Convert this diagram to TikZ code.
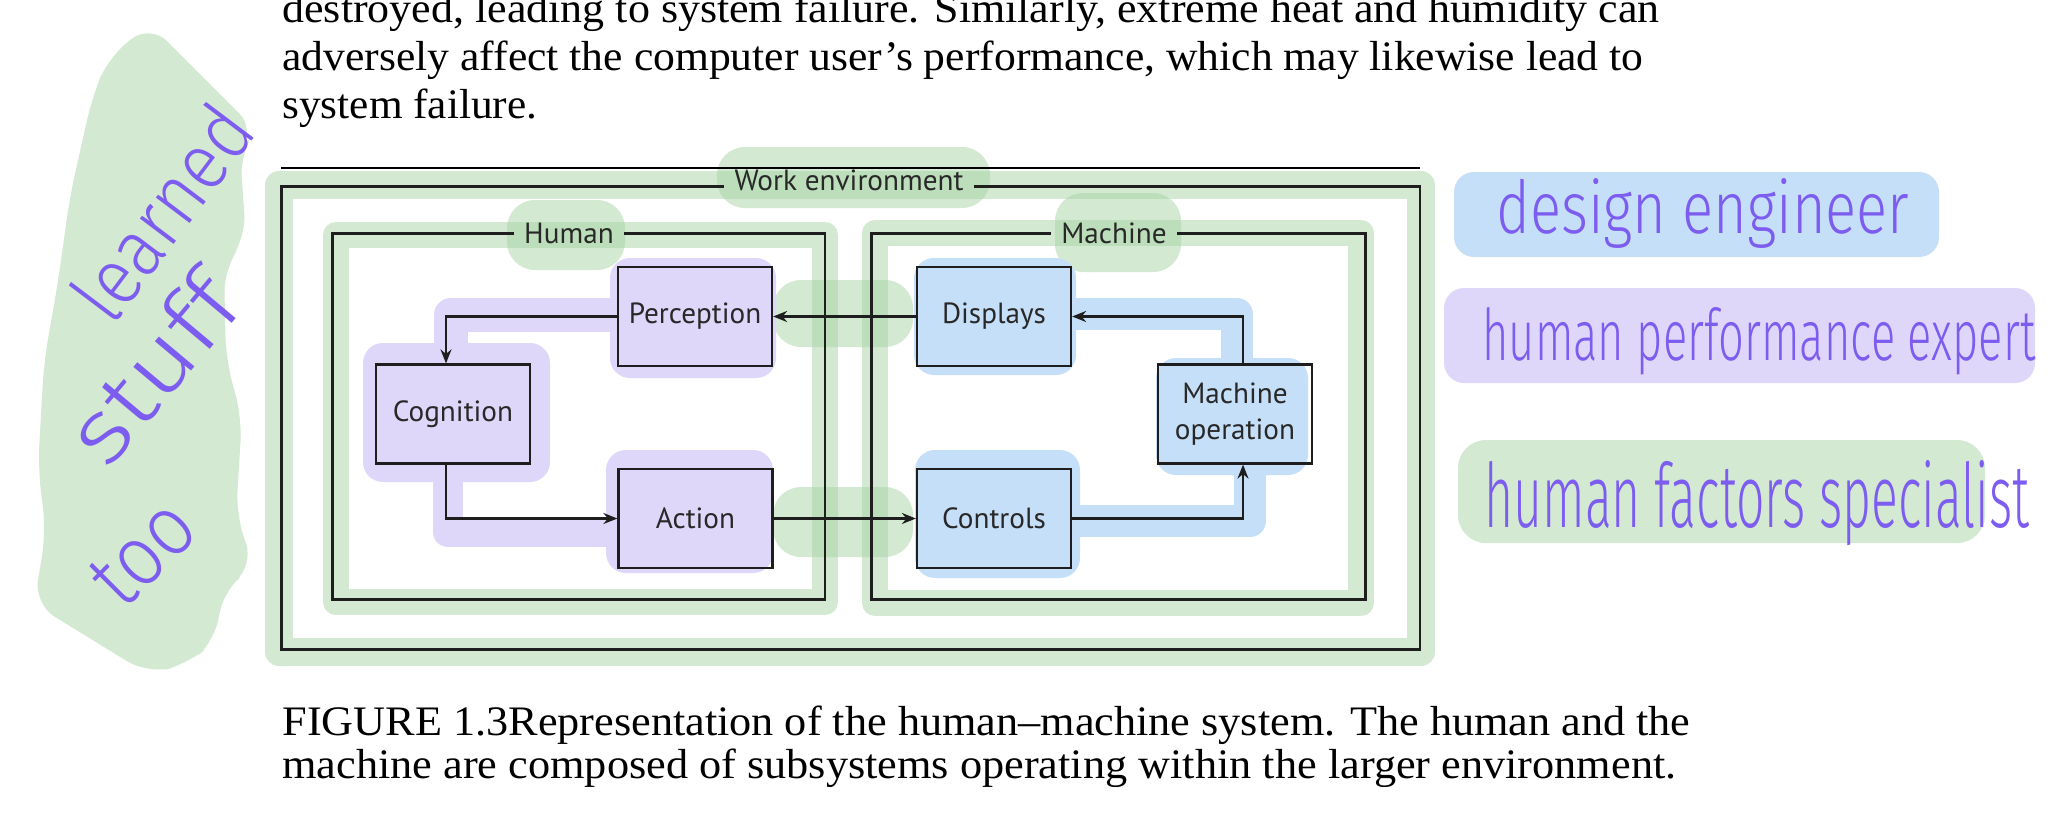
\documentclass[tikz,border=0pt]{standalone}
\usepackage{fontspec}
\usepackage{graphicx}
\usetikzlibrary{arrows.meta,calc}
\setmainfont{Liberation Serif}
\newfontfamily\diagfont{PT Sans}
\IfFontExistsTF{Fira Sans Light}{\newfontfamily\handfont{Fira Sans Light}}{\newfontfamily\handfont{PT Sans}}
\definecolor{hlgreen}{RGB}{169,213,165}
\definecolor{hlblue}{RGB}{197,223,248}
\definecolor{hlpurple}{RGB}{223,215,250}
\definecolor{ink}{RGB}{125,92,240}
\definecolor{diagline}{RGB}{30,30,30}
\definecolor{diagtext}{RGB}{40,40,40}
\tikzset{
  bodytext/.style={anchor=base west, inner sep=0pt, font=\fontsize{21pt}{25pt}\selectfont},
  gband/.style={draw=hlgreen, opacity=0.5, line width=#1, line join=round},
  gblob/.style={fill=hlgreen, opacity=0.5, rounded corners=14pt},
  gstroke/.style={draw=hlgreen, opacity=0.5, line width=#1, line cap=round},
  pblob/.style={fill=hlpurple, rounded corners=10pt},
  bblob/.style={fill=hlblue, rounded corners=10pt},
  pband/.style={draw=hlpurple, line width=#1, line join=round},
  bband/.style={draw=hlblue, line width=#1, line join=round},
  stepbox/.style={draw=diagline, line width=1.1pt, minimum width=77pt, minimum height=49.5pt,
    inner sep=0pt, align=center, text=diagtext, font=\diagfont\fontsize{14.6pt}{18pt}\selectfont},
  frame/.style={inner sep=0pt},
  framelab/.style={anchor=base, inner xsep=5pt, inner ysep=0pt, text=diagtext,
    font=\diagfont\fontsize{14.6pt}{18pt}\selectfont},
  frameline/.style={draw=diagline, line width=1.2pt},
  arr/.style={draw=diagline, line width=1.1pt, -{Stealth[length=7pt,width=5.5pt]}},
  hw/.style={inner sep=0pt, text=ink, font=\handfont},
}
\begin{document}
\begin{tikzpicture}[x=0.5pt,y=-0.5pt]
\path[use as bounding box] (0,0) rectangle (2048,820);
\clip (0,0) rectangle (2048,820);
\fill[white] (0,0) rectangle (2048,820);

% ---------- highlights (under the drawing) ----------
% left green patch
\begin{scope}[transparency group, opacity=0.5]
\fill[hlgreen, rounded corners=12pt] (150,24) -- (256,130) -- (240,152) -- (246,238) -- (224,268)
  -- (226,360) -- (242,418) -- (236,515) -- (254,566) -- (222,592) -- (216,640) -- (188,664)
  -- (148,674) -- (34,604) -- (46,532) -- (38,468) -- (44,362) -- (58,282) -- (70,196)
  -- (92,98) -- (108,58) -- cycle;
\end{scope}
% green frame bands
\draw[gband=14pt] (279,185) rectangle (1421,652);
\draw[gband=13pt] (336,235) rectangle (825,602);
\draw[gband=13pt] (875,233) rectangle (1361,603);
% green blobs
\fill[gblob] (717,147) rectangle (990,208);
\fill[gblob] (507,200) rectangle (625,270);
\fill[gblob] (1055,193) rectangle (1181,272);
\fill[gblob] (773,280) rectangle (913,347);
\fill[gblob] (773,487) rectangle (913,557);
\fill[gblob] (1458,440) rectangle (1985,543);
% purple
\draw[pband=17pt] (612,315) -- (451,315) -- (451,350);
\draw[pband=15pt] (448,470) -- (448,532) -- (606,532);
\fill[pblob] (610,258) rectangle (776,378);
\fill[pblob] (363,343) rectangle (550,482);
\fill[pblob] (606,450) rectangle (773,573);
\fill[pblob] (1444,288) rectangle (2035,383);
% blue
\draw[bband=16pt] (1071,314) -- (1237,314) -- (1237,365);
\draw[bband=16pt] (1071,521) -- (1250,521) -- (1250,470);
\fill[bblob] (914,258) rectangle (1076,375);
\fill[bblob] (1156,358) rectangle (1308,475);
\fill[bblob] (915,450) rectangle (1080,578);
\fill[bblob] (1454,172) rectangle (1939,257);

% ---------- body text ----------
\node[bodytext] (t1) at (282,22) {\resizebox{688.5pt}{\height}{destroyed, leading to system failure. Similarly, extreme heat and humidity can}};
\node[bodytext] (t2) at (282,70) {\resizebox{680.5pt}{\height}{adversely affect the computer user’s performance, which may likewise lead to}};
\node[bodytext] (t3) at (282,118) {\resizebox{127.5pt}{\height}{system failure.}};
\draw[line width=0.6pt] (281,168) -- (1420,168);

\node[bodytext] (c1) at (282,735) {\resizebox{704pt}{\height}{FIGURE 1.3Representation of the human–machine system. The human and the}};
\node[bodytext] (c2) at (282,778) {\resizebox{697pt}{\height}{machine are composed of subsystems operating within the larger environment.}};

% ---------- frames ----------
\node[frame, minimum width=568.75pt, minimum height=231pt] (work) at (850.75,418) {};
\node[frame, minimum width=245.75pt, minimum height=182.5pt] (human) at (578.75,416.5) {};
\node[frame, minimum width=246.5pt, minimum height=182.5pt] (machine) at (1118.5,416.5) {};
\node[framelab] (wlab) at (849,190) {Work environment};
\node[framelab] (hlab) at (569,243) {Human};
\node[framelab] (mlab) at (1114,243) {Machine};
\draw[frameline] (wlab.west |- work.north) -- (work.north west) -- (work.south west)
  -- (work.south east) -- (work.north east) -- (wlab.east |- work.north);
\draw[frameline] (hlab.west |- human.north) -- (human.north west) -- (human.south west)
  -- (human.south east) -- (human.north east) -- (hlab.east |- human.north);
\draw[frameline] (mlab.west |- machine.north) -- (machine.north west) -- (machine.south west)
  -- (machine.south east) -- (machine.north east) -- (mlab.east |- machine.north);

% ---------- boxes ----------
\node[stepbox] (per) at (695,316.5) {Perception};
\node[stepbox] (cog) at (453,414) {Cognition};
\node[stepbox] (act) at (695.5,518.5) {Action};
\node[stepbox] (dis) at (994,316.5) {Displays};
\node[stepbox] (mop) at (1235,414) {Machine\\operation};
\node[stepbox] (con) at (994,518.5) {Controls};
\coordinate (hx) at (446,0);
\coordinate (mx) at (1243,0);

\draw[arr] (dis.west) -- (per.east);
\draw[arr] (per.west) -| (cog.north -| hx);
\draw[arr] (cog.south -| hx) |- (act.west);
\draw[arr] (act.east) -- (con.west);
\draw[arr] (con.east) -| (mop.south -| mx);
\draw[arr] (mop.north -| mx) |- (dis.east);

% ---------- handwriting ----------
\node[hw, anchor=base west] (n1) at (1496,233) {\resizebox{206.5pt}{27.5pt}{design engineer}};
\node[hw, anchor=base west] (n2) at (1482,360) {\resizebox{276.5pt}{26.5pt}{human performance expert}};
\node[hw, anchor=base west] (n3) at (1484,527) {\resizebox{272.5pt}{33.5pt}{human factors specialist}};
\node[hw, rotate=53] (n4) at (162,212) {\resizebox{122pt}{30pt}{learned}};
\node[hw, rotate=50] (n5) at (152,368) {\resizebox{108pt}{33pt}{stuff}};
\node[hw, rotate=45] (n6) at (143,553) {\resizebox{55pt}{28pt}{too}};
\end{tikzpicture}
\end{document}
